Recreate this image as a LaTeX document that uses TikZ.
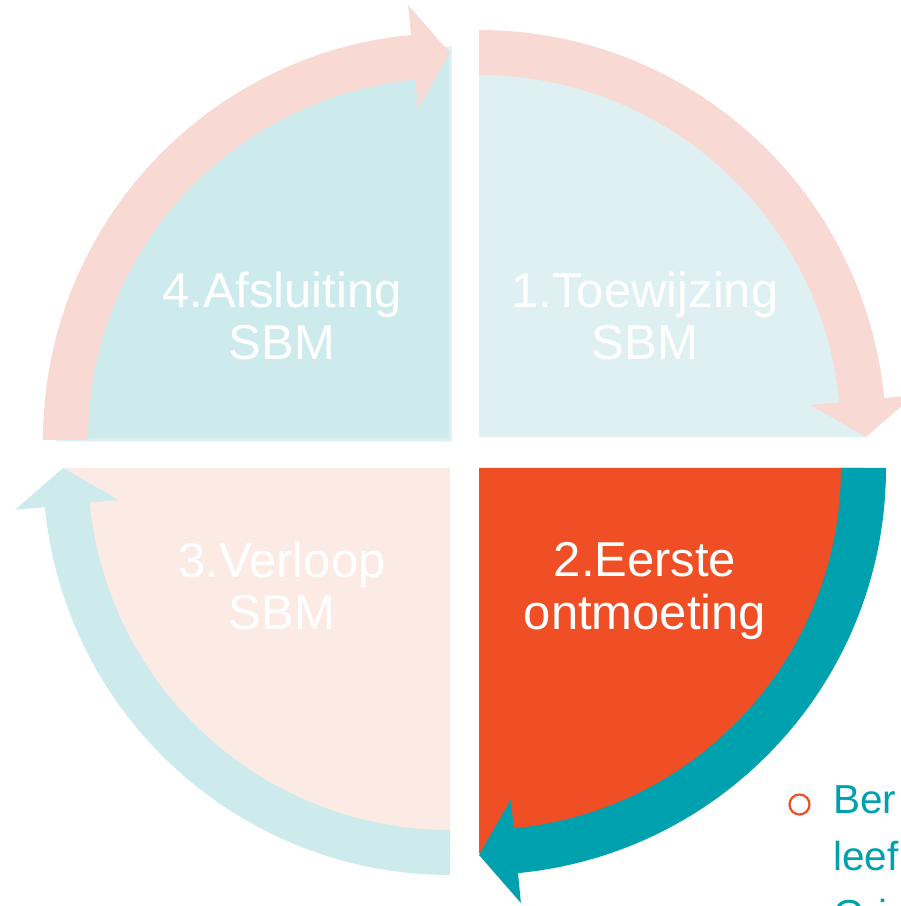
\documentclass[tikz,border=0pt]{standalone}
\usepackage{fontspec}
\setmainfont{Liberation Sans}
\usetikzlibrary{calc}
\definecolor{pinkarrow}{HTML}{F8D9D3}
\definecolor{qone}{HTML}{DFF0F3}
\definecolor{qfour}{HTML}{CDEBED}
\definecolor{qfourrim}{HTML}{DCEFF2}
\definecolor{qthree}{HTML}{FCEAE5}
\definecolor{qtwo}{HTML}{F04E25}
\definecolor{tealarrow}{HTML}{00A1AF}
\definecolor{lightteal}{HTML}{CDEBED}
\newcommand{\cyclearrow}[3]{% #1 center, #2 start angle, #3 colour
  \fill[#3] ($(#1)+(#2:407pt)$) arc[start angle=#2, end angle=#2-84.5, radius=407pt]
    -- ($(#1)+(#2-84.5:437pt)$) -- ($(#1)+(#2-90:387pt)$) -- ($(#1)+(#2-84.5:333pt)$)
    -- ($(#1)+(#2-84.5:362pt)$) arc[start angle=#2-84.5, end angle=#2, radius=362pt] -- cycle;}
\begin{document}
\begin{tikzpicture}[x=1pt,y=1pt,
  lbl/.style={text=white, font=\fontsize{49}{52}\selectfont, inner sep=0pt, anchor=base},
  sidetxt/.style={text=tealarrow, font=\fontsize{40.5}{57}\selectfont, inner sep=0pt, anchor=base west}]
\useasboundingbox (0,0) rectangle (901,906);
\clip (0,0) rectangle (901,906);
% centres (image y flipped)
\coordinate (cA) at (479,469);
\coordinate (cB) at (479,438);
\coordinate (cC) at (450,438);
\coordinate (cD) at (450,466);
% quadrants
\fill[qone] (cA) -- ++(0,385) arc[start angle=90, end angle=0, radius=385pt] -- cycle;
\fill[qtwo] (cB) -- ++(385,0) arc[start angle=0, end angle=-90, radius=385pt] -- cycle;
\fill[qthree] (cC) -- ++(0,-385) arc[start angle=-90, end angle=-180, radius=385pt] -- cycle;
\filldraw[fill=qfour, draw=qfourrim, line width=3pt] (cD) -- ++(-392,0) arc[start angle=180, end angle=90, radius=392pt] -- cycle;
% arrows
\cyclearrow{cA}{90}{pinkarrow}
\cyclearrow{cB}{0}{tealarrow}
\cyclearrow{cC}{-90}{lightteal}
\cyclearrow{cD}{180}{pinkarrow}
% labels
\node[lbl] (t1a) at (645,598) {1.Toewijzing};
\node[lbl] (t1b) at (645,546) {SBM};
\node[lbl] (t2a) at (645,329) {2.Eerste};
\node[lbl] (t2b) at (645,276) {ontmoeting};
\node[lbl] (t3a) at (282,328) {3.Verloop};
\node[lbl] (t3b) at (282,276) {SBM};
\node[lbl] (t4a) at (282,598) {4.Afsluiting};
\node[lbl] (t4b) at (282,546) {SBM};
% side text
\node[draw=qtwo, line width=2.2pt, circle, minimum size=20pt, inner sep=0pt] (bul) at (799.5,101.5) {};
\node[sidetxt] (sa) at (833,92) {Ber};
\node[sidetxt] (sb) at (833,35) {leef};
\node[sidetxt] (sc) at (833,-22) {Gri};
\end{tikzpicture}
\end{document}
